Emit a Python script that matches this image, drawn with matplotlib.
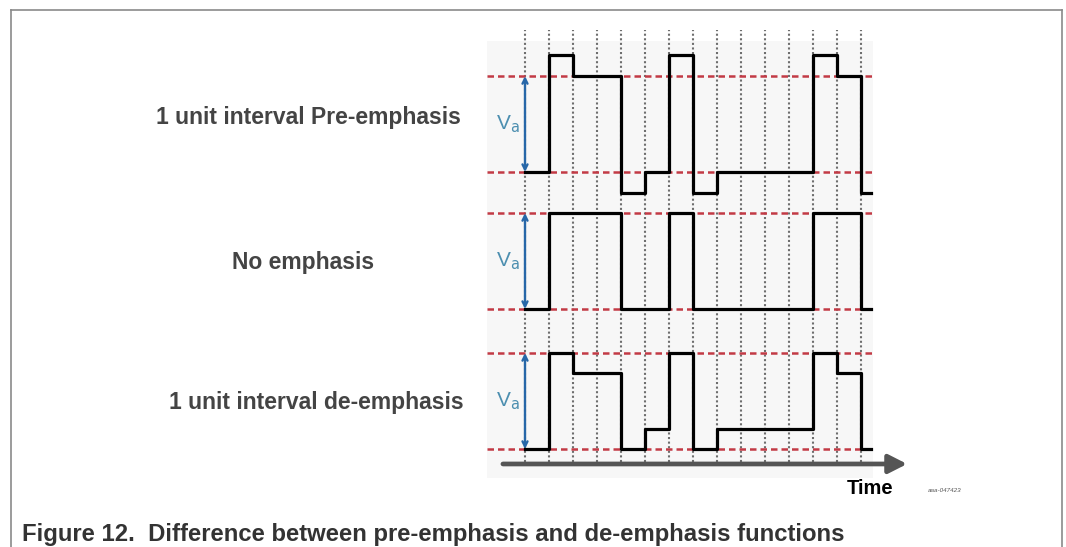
import matplotlib
matplotlib.use('Agg')
import matplotlib.pyplot as plt
from matplotlib.lines import Line2D
from matplotlib.patches import Rectangle
import numpy as np

plt.rcParams['font.family'] = ['Liberation Sans', 'DejaVu Sans']

# data: one level per unit interval (Va = 1)
unit_intervals = list(range(15))
tail_end = 14.42
no_emphasis = [0, 1, 1, 1, 0, 0, 1, 0, 0, 0, 0, 0, 1, 1, 0]
pre_emphasis = [0, 1.22, 1, 1, -0.22, 0, 1.22, -0.22, 0, 0, 0, 0, 1.22, 1, -0.22]
de_emphasis = [0, 1, 0.79, 0.79, 0, 0.21, 1, 0, 0.21, 0.21, 0.21, 0.21, 1, 0.79, 0]
panel_labels = ['1 unit interval Pre-emphasis', 'No emphasis', '1 unit interval de-emphasis']
panel_offsets = [2.885, 1.458, 0.0]
caption = 'Figure 12.  Difference between pre-emphasis and de-emphasis functions'

W, H = 1066, 547
fig = plt.figure(figsize=(W / 100, H / 100), dpi=100)
fig.patch.set_facecolor('white')

# pixel helpers for layout only
def fx(px):
    return px / W

def fy(py):
    return 1 - py / H

# frame (open at the bottom)
for xs, ys in [([10.5, 10.5], [H, 10]), ([10.5, 1061.5], [10, 10]), ([1061.5, 1061.5], [10, H])]:
    fig.add_artist(Line2D([fx(x) for x in xs], [fy(y) for y in ys], color='#8a8a8a', lw=1.2))

ax = fig.add_axes([0, 0, 1, 1])
ax.set_xlim(-525 / 24, (W - 525) / 24)
ax.set_ylim(-(H - 449) / 96, 449 / 96)
ax.axis('off')

# faint picture background
ax.add_patch(Rectangle((-1.6, -0.3), 16.1, 4.55, color='#f7f7f7', zorder=0, lw=0))

# dotted unit-interval grid
ax.vlines(unit_intervals, -0.135, 4.365, colors='#6e6e6e', lw=1.5,
          linestyles=(0, (1, 1.2)), zorder=1)

# red reference levels
for off in panel_offsets:
    ax.hlines([off, off + 1], -1.58, 14.46, colors='#c23a45', lw=1.8,
              linestyles=(0, (2.6, 1.6)), zorder=2)

edges = unit_intervals + [tail_end]
for off, levels in zip(panel_offsets, [pre_emphasis, no_emphasis, de_emphasis]):
    ys = [v + off for v in levels] + [levels[-1] + off]
    ax.plot(edges, ys, drawstyle='steps-post', color='black', lw=2.3, zorder=3)
    ax.annotate('', xy=(0, off + 1), xytext=(0, off),
                arrowprops=dict(arrowstyle='<->', color='#2767a8', lw=1.7,
                                shrinkA=0, shrinkB=0, mutation_scale=9), zorder=4)
    ax.text(-0.22, off + 0.5, r'V$_{\mathrm{a}}$', ha='right', va='center',
            color='#4d8fb0', fontsize=15, zorder=4)

# time axis
ax.annotate('', xy=(15.92, -0.156), xytext=(-0.92, -0.156),
            arrowprops=dict(arrowstyle='-|>,head_length=0.55,head_width=0.28',
                            color='#555555', lw=3.4, shrinkA=0, shrinkB=0,
                            mutation_scale=20), zorder=4)

for label, xc, yc in zip(panel_labels, [308, 303, 316], [118, 263, 403]):
    fig.text(fx(xc), fy(yc), label, ha='center', va='center', fontsize=16.5,
             fontweight='bold', color='#444444')

fig.text(fx(870), fy(489), 'Time', ha='center', va='center', fontsize=14.5,
         fontweight='bold', color='black')
fig.text(fx(928), fy(491), 'aaa-047423', ha='left', va='center', fontsize=4.5,
         style='italic', color='#555555')
fig.text(fx(22), fy(541), caption, ha='left', va='baseline', fontsize=17.2,
         fontweight='bold', color='#333333')

fig.savefig('out.png', dpi=100, facecolor='white')
